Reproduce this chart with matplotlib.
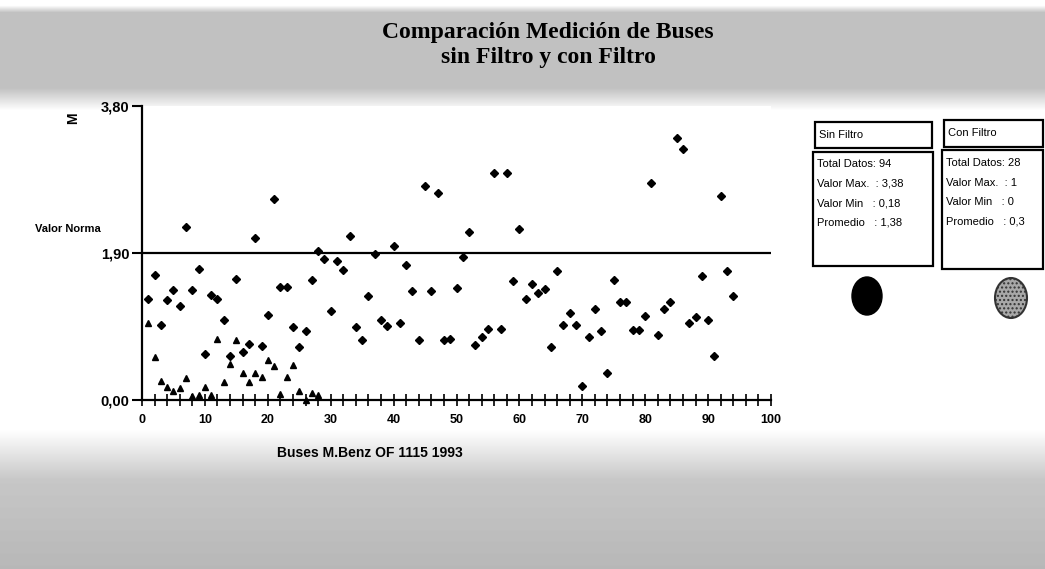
# Comparacion Medicion de Buses - sin Filtro y con Filtro (scatter, scanned look)
import matplotlib.pyplot as plt
import numpy as np
from matplotlib.patches import Rectangle, Ellipse
from matplotlib.ticker import FuncFormatter, MultipleLocator

plt.rcParams['font.family'] = ['Liberation Sans Narrow', 'Liberation Sans', 'DejaVu Sans']
plt.rcParams['font.weight'] = 'bold'

# Data
sin_filtro = [1.30, 1.61, 0.97, 1.29, 1.42, 1.22, 2.24, 1.42, 1.69, 0.59,
              1.36, 1.31, 1.03, 0.57, 1.56, 0.62, 0.72, 2.09, 0.70, 1.10,
              2.60, 1.46, 1.46, 0.95, 0.68, 0.89, 1.55, 1.93, 1.82, 1.15,
              1.80, 1.68, 2.12, 0.95, 0.77, 1.34, 1.89, 1.04, 0.96, 1.99,
              1.00, 1.74, 1.41, 0.77, 2.76, 1.41, 2.68, 0.77, 0.79, 1.45,
              1.85, 2.17, 0.71, 0.81, 0.92, 2.94, 0.92, 2.94, 1.54, 2.21,
              1.30, 1.50, 1.38, 1.43, 0.68, 1.67, 0.97, 1.13, 0.97, 0.18,
              0.81, 1.18, 0.89, 0.35, 1.55, 1.27, 1.27, 0.90, 0.91, 1.09,
              2.81, 0.84, 1.17, 1.27, 3.38, 3.25, 1.00, 1.07, 1.60, 1.03,
              0.57, 2.64, 1.67, 1.35]
con_filtro = [1.00, 0.56, 0.25, 0.17, 0.12, 0.15, 0.28, 0.05, 0.06, 0.17,
              0.06, 0.79, 0.23, 0.47, 0.77, 0.35, 0.23, 0.35, 0.30, 0.52,
              0.44, 0.08, 0.30, 0.45, 0.12, 0.00, 0.09, 0.06]
x_sin = list(range(1, len(sin_filtro) + 1))
x_con = list(range(1, len(con_filtro) + 1))

valor_norma = 1.90
y_ticks = [0.0, 1.90, 3.80]
x_ticks = [0, 10, 20, 30, 40, 50, 60, 70, 80, 90, 100]

title = 'Comparación Medición de Buses\nsin Filtro y con Filtro'
x_label = 'Buses M.Benz OF 1115 1993'
sin_lines = ['Total Datos: 94', 'Valor Max.  : 3,38', 'Valor Min   : 0,18', 'Promedio   : 1,38']
con_lines = ['Total Datos: 28', 'Valor Max.  : 1', 'Valor Min   : 0', 'Promedio   : 0,3']

W, H = 1045, 569
fig = plt.figure(figsize=(W / 100, H / 100), dpi=100)


def fx(px):
    return px / W


def fy(py):
    return 1 - py / H


# grey scan background bands
bg = fig.add_axes([0, 0, 1, 1], zorder=-10)
bg.axis('off')
rows = np.arange(H)
shade = np.interp(rows, [0, 5, 12, 88, 110, 430, 480, 569],
                  [1.0, 1.0, 0.76, 0.76, 1.0, 1.0, 0.78, 0.72])
bg.imshow(np.tile(shade[:, None], (1, W)), cmap='gray', vmin=0, vmax=1,
          aspect='auto', extent=[0, 1, 0, 1])

# main axes
ax = fig.add_axes([fx(142), fy(400), fx(771 - 142), (400 - 106) / H])
ax.set_facecolor('white')
ax.set_xlim(0, 100)
ax.set_ylim(0, 3.8)
for s in ['top', 'right']:
    ax.spines[s].set_visible(False)
ax.spines['left'].set_linewidth(1.6)
ax.spines['bottom'].set_linewidth(1.6)

ax.axhline(valor_norma, color='black', lw=1.6)
ax.plot(x_sin, sin_filtro, 'D', color='black', ms=4.3, clip_on=False)
ax.plot(x_con, con_filtro, '^', color='black', ms=4.3, clip_on=False)

ax.set_yticks(y_ticks)
ax.yaxis.set_major_formatter(FuncFormatter(lambda v, p: f'{v:.2f}'.replace('.', ',')))
ax.set_xticks(x_ticks)
ax.xaxis.set_minor_locator(MultipleLocator(2))
ax.tick_params(axis='y', direction='out', length=7, width=1.5, labelsize=10.5, pad=2)
ax.tick_params(axis='x', which='both', direction='inout', length=8, width=1.2,
               labelsize=9, pad=6)

fig.text(fx(35), fy(229), 'Valor Norma', fontsize=8, ha='left', va='center')
fig.text(fx(73), fy(118), 'M', fontsize=10, rotation=90, ha='center', va='center')
fig.text(fx(370), fy(453), x_label, fontsize=10, ha='center', va='center')
fig.text(fx(548), fy(45), title, fontsize=17, ha='center', va='center',
         family=['Liberation Serif', 'DejaVu Serif'], fontweight='bold', linespacing=1.25)

# stat boxes
def box(x0, y0, x1, y1):
    fig.add_artist(Rectangle((fx(x0), fy(y1)), fx(x1 - x0), (y1 - y0) / H,
                             transform=fig.transFigure, fill=False, lw=1.6, ec='black'))


box(815, 122, 932, 148)
box(813, 152, 933, 266)
box(944, 120, 1043, 147)
box(942, 150, 1043, 269)
fig.text(fx(819), fy(135), 'Sin Filtro', fontsize=8, va='center', fontweight='normal')
fig.text(fx(948), fy(133), 'Con Filtro', fontsize=8, va='center', fontweight='normal')
for i, (a, b) in enumerate(zip(sin_lines, con_lines)):
    fig.text(fx(817), fy(164 + i * 19.5), a, fontsize=8, va='center', fontweight='normal')
    fig.text(fx(946), fy(163 + i * 19.5), b, fontsize=8, va='center', fontweight='normal')

fig.add_artist(Ellipse((fx(867), fy(296)), fx(30), 38 / H, transform=fig.transFigure,
                       fc='black', ec='black'))
fig.add_artist(Ellipse((fx(1011), fy(298)), fx(32), 40 / H, transform=fig.transFigure,
                       fc='#a8a8a8', ec='#333333', lw=1.5, hatch='....'))

fig.savefig('out.png', dpi=100)
